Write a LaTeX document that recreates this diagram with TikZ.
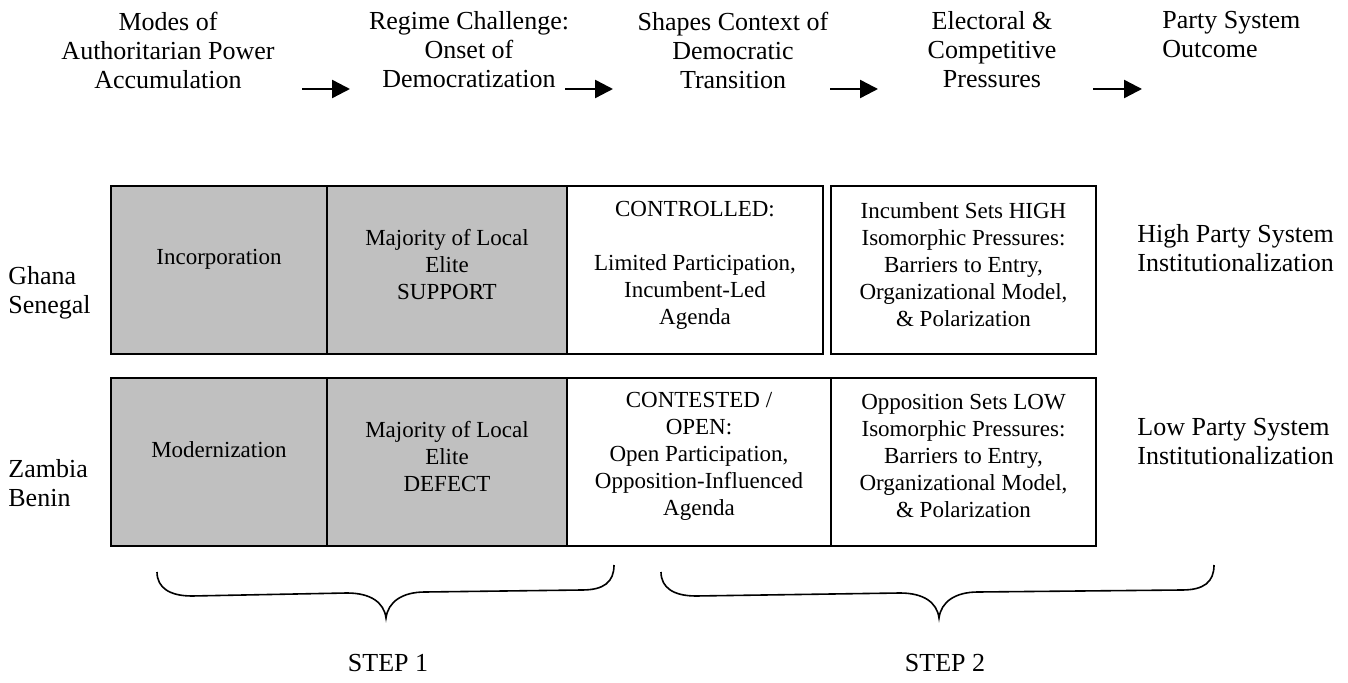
\documentclass[tikz,border=0pt]{standalone}
\usepackage{fontspec}
\setmainfont{Liberation Serif}
\usetikzlibrary{arrows.meta}
\definecolor{cellgray}{RGB}{192,192,192}

\begin{document}
\begin{tikzpicture}[x=0.5pt, y=-0.5pt,
    lbl/.style={align=center, font=\fontsize{13}{14.5}\selectfont, inner sep=0pt},
    celltxt/.style={align=center, font=\fontsize{11.5}{13.5}\selectfont, inner sep=0pt},
    cell/.style={draw, line width=1pt, anchor=north west, minimum height=84pt, inner sep=0pt},
    flow/.style={line width=1.2pt, -{Triangle[length=9pt, width=9pt]}},
    brace/.style={line width=0.8pt}]
    \useasboundingbox (0,0) rectangle (1348,683);

    % Titres des etapes
    \node[lbl] (modes) at (168,50) {Modes of\\Authoritarian Power\\Accumulation};
    \node[lbl] (regime) at (469,50) {Regime Challenge:\\Onset of\\Democratization};
    \node[lbl] (context) at (733,50) {Shapes Context of\\Democratic\\Transition};
    \node[lbl] (pressure) at (992,50) {Electoral \&\\Competitive\\Pressures};
    \node[lbl, align=left, anchor=west] (outcome) at (1162,35) {Party System\\Outcome};

    % Fleches entre les titres
    \def\ya{89}
    \coordinate (a1s) at (302,\ya);  \coordinate (a1e) at (350,\ya);
    \coordinate (a2s) at (565,\ya);  \coordinate (a2e) at (613,\ya);
    \coordinate (a3s) at (830,\ya);  \coordinate (a3e) at (878,\ya);
    \coordinate (a4s) at (1093,\ya); \coordinate (a4e) at (1142,\ya);
    \draw[flow] (a1s) -- (a1e);
    \draw[flow] (a2s) -- (a2e);
    \draw[flow] (a3s) -- (a3e);
    \draw[flow] (a4s) -- (a4e);

    % Cas
    \node[lbl, align=left, anchor=west] (ghana) at (8,293) {Ghana\\Senegal};
    \node[lbl, align=left, anchor=west] (zambia) at (8,483) {Zambia\\Benin};

    % Ligne du haut
    \def\yA{185}
    \node[cell, fill=cellgray, minimum width=108pt] (incorp) at (110,\yA) {};
    \node[cell, fill=cellgray, minimum width=120pt] (eliteS) at (326,\yA) {};
    \node[cell, minimum width=128pt] (controlled) at (566,\yA) {};
    \node[cell, minimum width=132.5pt] (high) at (830,\yA) {};

    \node[celltxt] (incorpT) at ([yshift=5.5pt]incorp.center) {Incorporation};
    \node[celltxt] (eliteST) at ([yshift=2.5pt]eliteS.center) {Majority of Local\\Elite\\SUPPORT};
    \node[celltxt] (controlledT) at ([yshift=2.5pt]controlled.center) {CONTROLLED:\\[13.5pt]Limited Participation,\\Incumbent-Led\\Agenda};
    \node[celltxt] (highT) at ([yshift=2.5pt]high.center) {Incumbent Sets HIGH\\Isomorphic Pressures:\\Barriers to Entry,\\Organizational Model,\\\& Polarization};

    % Ligne du bas
    \def\yB{377}
    \node[cell, fill=cellgray, minimum width=108pt] (modern) at (110,\yB) {};
    \node[cell, fill=cellgray, minimum width=120pt] (eliteD) at (326,\yB) {};
    \node[cell, minimum width=132pt] (contested) at (566,\yB) {};
    \node[cell, minimum width=132.5pt] (low) at (830,\yB) {};

    \node[celltxt] (modernT) at ([yshift=6pt]modern.center) {Modernization};
    \node[celltxt] (eliteDT) at ([yshift=2.5pt]eliteD.center) {Majority of Local\\Elite\\DEFECT};
    \node[celltxt] (contestedT) at ([yshift=3pt]contested.center) {CONTESTED /\\OPEN:\\Open Participation,\\Opposition-Influenced\\Agenda};
    \node[celltxt] (lowT) at ([yshift=3pt]low.center) {Opposition Sets LOW\\Isomorphic Pressures:\\Barriers to Entry,\\Organizational Model,\\\& Polarization};

    % Resultats
    \node[lbl, align=left, anchor=west] (highPS) at (1137,248) {High Party System\\Institutionalization};
    \node[lbl, align=left, anchor=west] (lowPS) at (1137,442) {Low Party System\\Institutionalization};

    % Accolades
    \coordinate (b1l) at (157,572); \coordinate (b1m) at (386,618); \coordinate (b1r) at (614,565);
    \coordinate (b2l) at (661,572); \coordinate (b2m) at (939,618); \coordinate (b2r) at (1214,565);
    \draw[brace] (b1l) .. controls (157,588) and (170,596) .. (192,596) -- (347,593)
        .. controls (370,593) and (384,602) .. (b1m)
        .. controls (388,602) and (402,592) .. (425,592) -- (582,590)
        .. controls (604,590) and (614,582) .. (b1r);
    \draw[brace] (b2l) .. controls (661,588) and (674,596) .. (696,596) -- (900,593)
        .. controls (923,593) and (937,602) .. (b2m)
        .. controls (941,602) and (955,592) .. (978,592) -- (1182,590)
        .. controls (1204,590) and (1214,582) .. (b2r);

    \node[lbl] (step1) at (388,663) {STEP 1};
    \node[lbl] (step2) at (945,663) {STEP 2};
\end{tikzpicture}
\end{document}
